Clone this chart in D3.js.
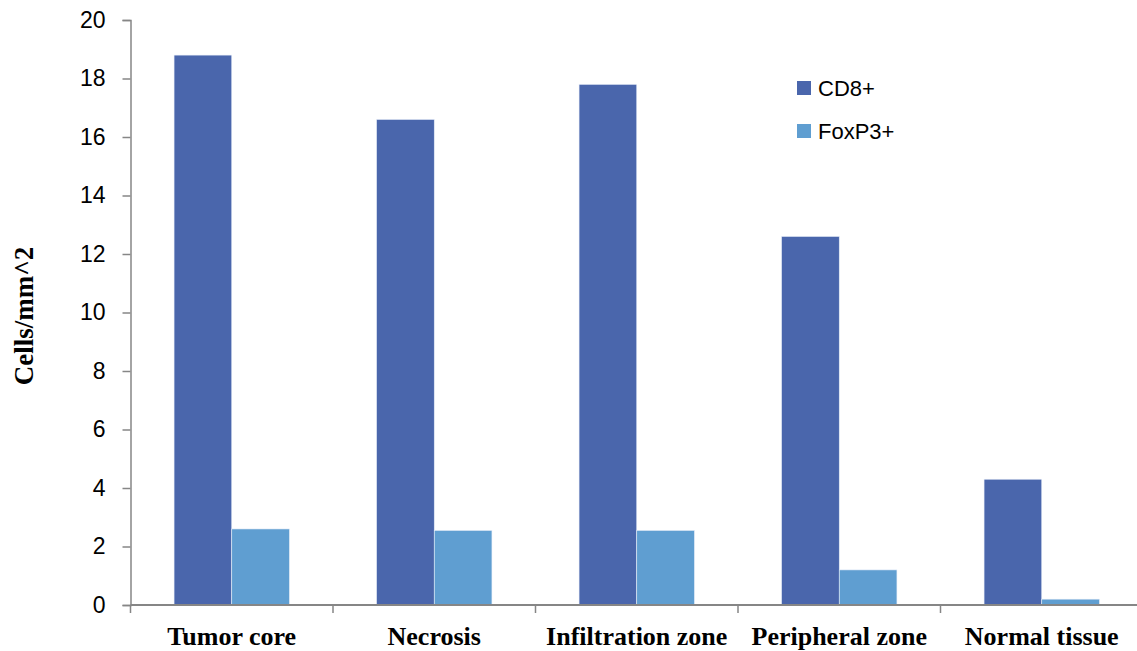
<!DOCTYPE html>
<html>
<head>
<meta charset="utf-8">
<script src="https://cdn.jsdelivr.net/npm/d3@7"></script>
<style>
  html, body { margin: 0; padding: 0; background: #ffffff; }
  svg { display: block; }
</style>
</head>
<body>
<svg id="chart" width="1137" height="651"></svg>
<script>
// Cell density per tissue zone
const categories = ["Tumor core", "Necrosis", "Infiltration zone", "Peripheral zone", "Normal tissue"];
const seriesNames = ["CD8+", "FoxP3+"];
const cd8Values = [18.8, 16.6, 17.8, 12.6, 4.3];
const foxp3Values = [2.6, 2.55, 2.55, 1.2, 0.2];
const yTicks = [0, 2, 4, 6, 8, 10, 12, 14, 16, 18, 20];
const seriesColors = ["#4A66AC", "#5F9ED1"];

const svg = d3.select("#chart");
const plotLeft = 130.5, plotRight = 1143, plotTop = 20, plotBottom = 605;

const x = d3.scaleBand().domain(categories).range([plotLeft, plotRight]).paddingInner(0).paddingOuter(0);
const inner = d3.scaleBand().domain(seriesNames).range([0, x.bandwidth()]).paddingInner(0).paddingOuter(0.755);
const y = d3.scaleLinear().domain([0, 20]).range([plotBottom, plotTop]);

const rows = categories.map((c, i) => ({ category: c, values: [cd8Values[i], foxp3Values[i]] }));

// Bars
const groups = svg.append("g").selectAll("g").data(rows).join("g")
  .attr("transform", d => `translate(${x(d.category)},0)`);
groups.selectAll("rect").data(d => d.values.map((v, j) => ({ name: seriesNames[j], v, j })))
  .join("rect")
  .attr("x", d => inner(d.name))
  .attr("width", inner.bandwidth())
  .attr("y", d => y(d.v))
  .attr("height", d => y(0) - y(d.v))
  .attr("fill", d => seriesColors[d.j])
  .attr("stroke", "#e8eef8")
  .attr("stroke-width", 0.6);

// Y axis
const yAxis = svg.append("g").attr("transform", `translate(${plotLeft},0)`)
  .call(d3.axisLeft(y).tickValues(yTicks).tickSize(8).tickPadding(17).tickFormat(d3.format("d")));
yAxis.select(".domain").attr("stroke", "#868686").attr("stroke-width", 1.5);
yAxis.selectAll(".tick line").attr("stroke", "#868686").attr("stroke-width", 1.5);
yAxis.selectAll(".tick text")
  .attr("font-family", "'Liberation Sans', Arial, sans-serif")
  .attr("font-size", 23).attr("fill", "#000");

// X axis with boundary ticks between categories
const xAxisG = svg.append("g");
xAxisG.append("line")
  .attr("x1", plotLeft).attr("x2", plotRight).attr("y1", plotBottom).attr("y2", plotBottom)
  .attr("stroke", "#868686").attr("stroke-width", 1.8);
const boundaries = categories.map(c => x(c)).concat([x(categories[categories.length - 1]) + x.bandwidth()]);
xAxisG.selectAll("line.b").data(boundaries).join("line").attr("class", "b")
  .attr("x1", d => d).attr("x2", d => d).attr("y1", plotBottom).attr("y2", plotBottom + 8)
  .attr("stroke", "#868686").attr("stroke-width", 1.5);
xAxisG.selectAll("text").data(categories).join("text")
  .attr("x", d => x(d) + x.bandwidth() / 2)
  .attr("y", 645)
  .attr("text-anchor", "middle")
  .attr("font-family", "'Liberation Serif', 'Times New Roman', serif")
  .attr("font-weight", "bold")
  .attr("font-size", 26)
  .attr("fill", "#000")
  .text(d => d);

// Y axis title
svg.append("text")
  .attr("transform", "translate(33,316) rotate(-90)")
  .attr("text-anchor", "middle")
  .attr("font-family", "'Liberation Serif', 'Times New Roman', serif")
  .attr("font-weight", "bold")
  .attr("font-size", 27)
  .attr("fill", "#000")
  .text("Cells/mm^2");

// Legend
const legend = svg.append("g").selectAll("g").data(seriesNames).join("g")
  .attr("transform", (d, i) => `translate(797,${81 + i * 43})`);
legend.append("rect").attr("width", 14).attr("height", 14)
  .attr("fill", (d, i) => seriesColors[i]);
legend.append("text")
  .attr("x", 21).attr("y", 15)
  .attr("font-family", "'Liberation Sans', Arial, sans-serif")
  .attr("font-size", 22).attr("fill", "#000")
  .text(d => d);
</script>
</body>
</html>
